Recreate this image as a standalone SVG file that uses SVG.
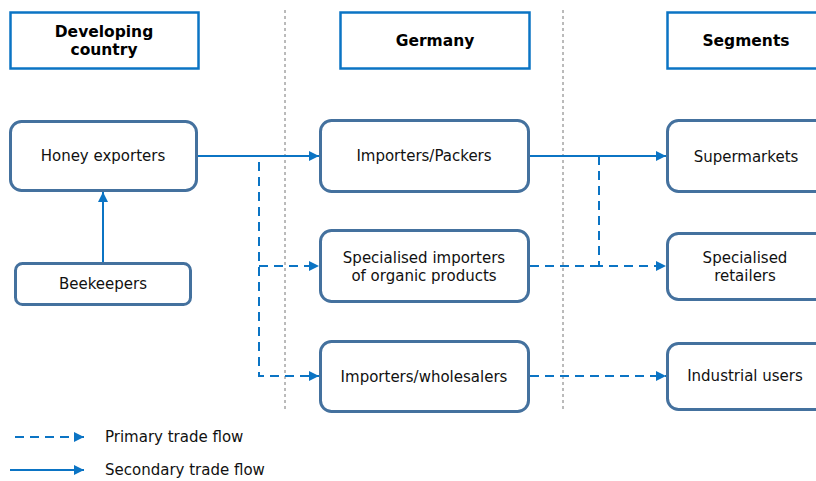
<svg xmlns="http://www.w3.org/2000/svg" width="816" height="481" viewBox="0 0 816 481">
<style>
.hdr{fill:#fff;stroke:#0B74C4;stroke-width:2.5}
.node{fill:#fff;stroke:#44719E;stroke-width:3}
.t{font-family:"DejaVu Sans",Verdana,sans-serif;font-size:15px;fill:#111;text-anchor:middle}
.tb{font-family:"DejaVu Sans",Verdana,sans-serif;font-size:15.5px;font-weight:bold;fill:#000;text-anchor:middle}
.tl{font-family:"DejaVu Sans",Verdana,sans-serif;font-size:15px;fill:#111}
.sep{stroke:#777;stroke-width:1;stroke-dasharray:3,3;fill:none}
.sol{stroke:#0B74C4;stroke-width:2;fill:none}
.dash{stroke:#0B74C4;stroke-width:2;fill:none;stroke-dasharray:9,6}
</style>
<defs>
<marker id="ar" viewBox="0 0 10 10" refX="10" refY="5" markerWidth="10" markerHeight="10" markerUnits="userSpaceOnUse" orient="auto">
<path d="M0,0 L10,5 L0,10 Z" fill="#0B74C4"/>
</marker>
</defs>
<rect width="816" height="481" fill="#fff"/>
<g id="separators">
<line class="sep" x1="285" y1="10" x2="285" y2="411"/>
<line class="sep" x1="563" y1="10" x2="563" y2="411"/>
</g>
<g id="hdr-developing">
<rect class="hdr" x="10.5" y="12.5" width="188" height="56"/>
<text class="tb" x="104" y="37">Developing</text>
<text class="tb" x="104" y="55">country</text>
</g>
<g id="hdr-germany">
<rect class="hdr" x="340.5" y="12.5" width="189" height="56"/>
<text class="tb" x="435" y="46">Germany</text>
</g>
<g id="hdr-segments">
<rect class="hdr" x="667.5" y="12.5" width="160" height="56"/>
<text class="tb" x="746" y="46">Segments</text>
</g>
<g id="connectors">
<line class="sol" x1="198" y1="156" x2="319" y2="156" marker-end="url(#ar)"/>
<line class="sol" x1="103" y1="263" x2="103" y2="192" marker-end="url(#ar)"/>
<path class="dash" d="M259,162 V376 H319" marker-end="url(#ar)"/>
<path class="dash" d="M259,266 H319" marker-end="url(#ar)"/>
<line class="sol" x1="530" y1="156" x2="666" y2="156" marker-end="url(#ar)"/>
<path class="dash" d="M599,156 V266 H666" marker-end="url(#ar)"/>
<path class="dash" d="M530,266 H599"/>
<line class="dash" x1="530" y1="376" x2="666" y2="376" marker-end="url(#ar)"/>
</g>
<g id="n-honey">
<rect class="node" x="10.5" y="121.5" width="186" height="69" rx="11"/>
<text class="t" x="103" y="161">Honey exporters</text>
</g>
<g id="n-beekeepers">
<rect class="node" x="15.5" y="263.5" width="175" height="41" rx="7"/>
<text class="t" x="103" y="289">Beekeepers</text>
</g>
<g id="n-packers">
<rect class="node" x="320.5" y="120.5" width="208" height="71" rx="11"/>
<text class="t" x="424" y="161">Importers/Packers</text>
</g>
<g id="n-organic">
<rect class="node" x="320.5" y="230.5" width="208" height="71" rx="11"/>
<text class="t" x="424" y="263">Specialised importers</text>
<text class="t" x="424" y="281">of organic products</text>
</g>
<g id="n-wholesalers">
<rect class="node" x="320.5" y="341.5" width="208" height="70" rx="11"/>
<text class="t" x="424" y="382">Importers/wholesalers</text>
</g>
<g id="n-supermarkets">
<rect class="node" x="667.5" y="120.5" width="160" height="71" rx="11"/>
<text class="t" x="746" y="162">Supermarkets</text>
</g>
<g id="n-retailers">
<rect class="node" x="667.5" y="233.5" width="160" height="66" rx="11"/>
<text class="t" x="745" y="263">Specialised</text>
<text class="t" x="745" y="281">retailers</text>
</g>
<g id="n-industrial">
<rect class="node" x="667.5" y="343.5" width="160" height="66" rx="11"/>
<text class="t" x="745" y="381">Industrial users</text>
</g>
<g id="legend">
<line class="dash" x1="15" y1="437" x2="84" y2="437" marker-end="url(#ar)"/>
<text class="tl" x="105" y="442">Primary trade flow</text>
<line class="sol" x1="10" y1="470" x2="84" y2="470" marker-end="url(#ar)"/>
<text class="tl" x="105" y="475">Secondary trade flow</text>
</g>
</svg>
